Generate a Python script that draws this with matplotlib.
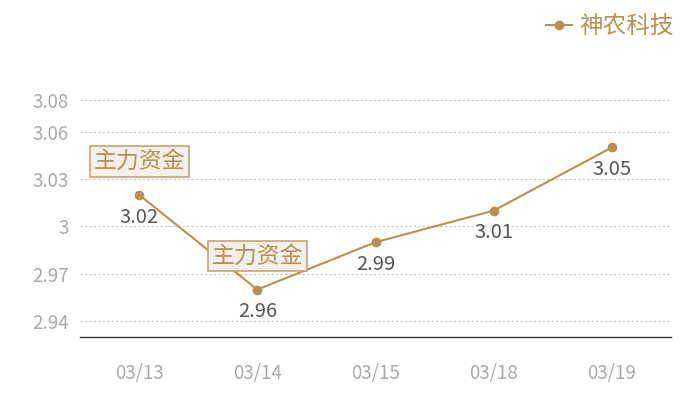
import matplotlib
matplotlib.use("Agg")
import matplotlib.pyplot as plt

plt.rcParams["font.family"] = ["Noto Sans CJK SC", "DejaVu Sans"]

dates = ["03/13", "03/14", "03/15", "03/18", "03/19"]
prices = [3.02, 2.96, 2.99, 3.01, 3.05]
value_labels = ["3.02", "2.96", "2.99", "3.01", "3.05"]
ytick_vals = [2.94, 2.97, 3.00, 3.03, 3.06, 3.08]
ytick_labels = ["2.94", "2.97", "3", "3.03", "3.06", "3.08"]
flag_idx = [0, 1]
flag_text = "主力资金"
series_name = "神农科技"

GOLD = "#b8914f"
GRID = "#c8c8c8"

fig = plt.figure(figsize=(7, 4), dpi=100)
ax = fig.add_axes([80 / 700, 1 - 337 / 400, (671 - 80) / 700, (337 - 100) / 400])

x = list(range(len(dates)))
ax.plot(x, prices, color=GOLD, lw=1.5, marker="o", ms=6, label=series_name, zorder=3)

for xi, v, lab in zip(x, prices, value_labels):
    ax.annotate(lab, (xi, v), xytext=(0, -16), textcoords="offset points",
                ha="center", va="center", fontsize=14.5, color="#555555",
                fontweight="light", zorder=4)

for i in flag_idx:
    ax.annotate(flag_text, (x[i], prices[i]), xytext=(0, 24), textcoords="offset points",
                ha="center", va="center", fontsize=16.5, color=GOLD, fontweight="light", zorder=5,
                bbox=dict(boxstyle="square,pad=0.16", fc="#f4efe8", ec="#c9a36a", lw=1.2))

ax.set_xlim(-0.5, len(dates) - 0.5)
ax.set_ylim(2.93, 3.08)
ax.set_xticks(x)
ax.set_xticklabels(dates, fontsize=13.5, color="#aaaaaa", fontweight="light")
ax.set_yticks(ytick_vals)
ax.set_yticklabels(ytick_labels, fontsize=13.5, color="#aaaaaa", fontweight="light")
ax.tick_params(length=0)
ax.tick_params(axis="x", pad=19)
ax.tick_params(axis="y", pad=8)
ax.grid(axis="y", color=GRID, ls=(0, (2, 2)), lw=0.8)
ax.set_axisbelow(True)
for s in ("top", "right", "left"):
    ax.spines[s].set_visible(False)
ax.spines["bottom"].set_color("#333333")
ax.spines["bottom"].set_linewidth(1.0)

leg = fig.legend(loc="upper right", bbox_to_anchor=(0.993, 1.015), frameon=False,
                 prop={"size": 17, "weight": "light"}, handlelength=1.1, handletextpad=0.3)
for t in leg.get_texts():
    t.set_color(GOLD)

fig.savefig("out.png", dpi=100, facecolor="white")
